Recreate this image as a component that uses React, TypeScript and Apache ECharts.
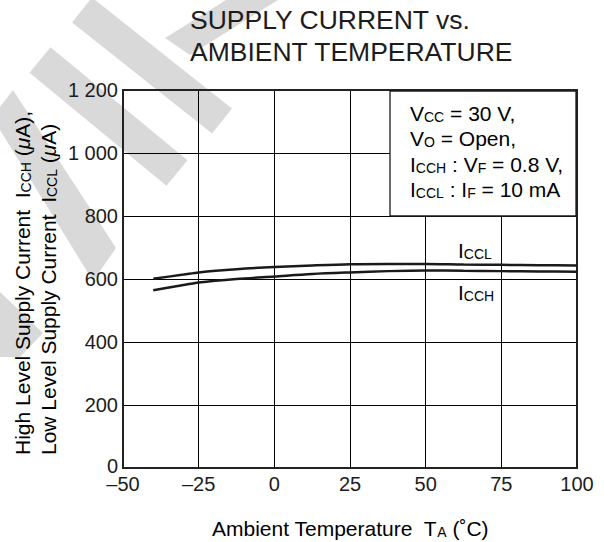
import React, { useEffect, useRef } from "react";
import * as echarts from "echarts";

// Data
const temps = [-40, -30, -25, -12.5, 0, 12.5, 25, 37.5, 50, 62.5, 75, 87.5, 100];
const icclValues = [601, 614, 621, 631, 638, 643, 647, 648, 648, 646, 645, 644, 643];
const icchValues = [564, 581, 589, 600, 608, 616, 621, 625, 627, 626, 625, 624, 623];
const xTicks = { min: -50, max: 100, interval: 25 };
const yTicks = { min: 0, max: 1200, interval: 200 };
const titleLines = ["SUPPLY CURRENT vs.", "AMBIENT TEMPERATURE"];
const legendLines = [
  "V{s|CC} = 30 V,",
  "V{s|O} = Open,",
  "I{s|CCH} : V{s|F} = 0.8 V,",
  "I{s|CCL} : I{s|F} = 10 mA",
];

const FONT = "'Liberation Sans', Arial, Helvetica, sans-serif";
const INK = "#1c1c1c";

function band(sx: number, sy: number, ex: number, ey: number, w: number) {
  const dx = ex - sx;
  const dy = ey - sy;
  const L = Math.hypot(dx, dy);
  const nx = (-dy / L) * (w / 2);
  const ny = (dx / L) * (w / 2);
  return [
    [sx + nx, sy + ny],
    [ex + nx, ey + ny],
    [ex - nx, ey - ny],
    [sx - nx, sy - ny],
  ];
}

const rich = {
  s: { fontSize: 14, fontFamily: FONT, color: INK, verticalAlign: "bottom" as const },
  i: { fontSize: 21, fontFamily: FONT, color: INK, fontStyle: "italic" as const, verticalAlign: "bottom" as const },
  n: { fontSize: 21, fontFamily: FONT, color: INK, verticalAlign: "bottom" as const },
};

function buildRich(t: string) {
  const parts: string[] = [];
  const re = /\{([a-z])\|([^}]*)\}/g;
  let last = 0;
  let m: RegExpExecArray | null;
  while ((m = re.exec(t)) !== null) {
    if (m.index > last) parts.push(`{n|${t.slice(last, m.index)}}`);
    parts.push(m[0]);
    last = m.index + m[0].length;
  }
  if (last < t.length) parts.push(`{n|${t.slice(last)}}`);
  return parts.join("");
}

export default function App() {
  const ref = useRef<HTMLDivElement>(null);
  useEffect(() => {
    if (!ref.current) return;
    const chart = echarts.init(ref.current, undefined, { renderer: "svg" });
    const bandColor = "#d9d9d9";
    const polys: number[][][] = [
      band(82, 10, 222, 121, 32),
      band(40, 60, 177, 173, 33),
      [[0, 107], [13, 90], [116, 248], [93, 281], [0, 130]],
      [[0, 292], [43, 333], [20, 357], [0, 357]],
      [[226, 0], [278, 0], [190, 55], [165, 38]],
    ];
    const graphics: any[] = polys.map((pts) => ({
      type: "polygon",
      z: -5,
      silent: true,
      shape: { points: pts },
      style: { fill: bandColor },
    }));
    // legend box
    graphics.push({
      type: "rect",
      z: 5,
      shape: { x: 390, y: 91, width: 186, height: 125 },
      style: { fill: "#fff", stroke: INK, lineWidth: 1.3 },
    });
    legendLines.forEach((l, k) => {
      graphics.push({
        type: "text",
        z: 6,
        x: 410,
        y: 113 + k * 25.5,
        style: { text: buildRich(l), rich, verticalAlign: "middle", align: "left" },
      });
    });
    // curve labels
    graphics.push({
      type: "text",
      z: 6,
      x: 458,
      y: 250,
      style: { text: buildRich("I{s|CCL}"), rich, verticalAlign: "middle", align: "left" },
    });
    graphics.push({
      type: "text",
      z: 6,
      x: 458,
      y: 292,
      style: { text: buildRich("I{s|CCH}"), rich, verticalAlign: "middle", align: "left" },
    });
    // y axis names
    const yNames = [
      "High Level Supply Current  I{s|CCH} ({i|μ}A),",
      "Low Level Supply Current  I{s|CCL} ({i|μ}A)",
    ];
    yNames.forEach((t, k) => {
      graphics.push({
        type: "text",
        z: 6,
        x: 22 + k * 26,
        y: 455,
        rotation: Math.PI / 2,
        style: { text: buildRich(t), rich, verticalAlign: "middle", align: "left" },
      });
    });
    // x axis name
    graphics.push({
      type: "text",
      z: 6,
      x: 212,
      y: 528,
      style: { text: buildRich("Ambient Temperature  T{s|A} (˚C)"), rich, verticalAlign: "middle", align: "left" },
    });

    const option: any = {
      animation: false,
      backgroundColor: "#fff",
      title: {
        text: titleLines.join("\n"),
        left: 190,
        top: 4,
        padding: 0,
        textStyle: { fontFamily: FONT, fontSize: 26.5, fontWeight: "normal", color: INK, lineHeight: 32 },
      },
      grid: {
        left: 123,
        top: 90,
        width: 454,
        height: 378,
        show: true,
        backgroundColor: "transparent",
        borderColor: "#222",
        borderWidth: 2,
        z: 3,
      },
      xAxis: {
        type: "value",
        min: xTicks.min,
        max: xTicks.max,
        interval: xTicks.interval,
        axisLine: { show: false },
        axisTick: { show: false },
        axisLabel: {
          margin: 8,
          color: INK,
          fontFamily: FONT,
          fontSize: 20,
          lineHeight: 15,
          formatter: (v: number) => (v < 0 ? "–" + Math.abs(v) : String(v)),
        },
        splitLine: { show: true, lineStyle: { color: "#000", width: 1 } },
      },
      yAxis: {
        type: "value",
        min: yTicks.min,
        max: yTicks.max,
        interval: yTicks.interval,
        axisLine: { show: false },
        axisTick: { show: false },
        axisLabel: {
          margin: 5,
          color: INK,
          fontFamily: FONT,
          fontSize: 20,
          lineHeight: 15,
          formatter: (v: number) =>
            v === 0 ? "{z|0}" : v >= 1000 ? "1 " + String(v - 1000).padStart(3, "0") : String(v),
          rich: {
            z: { fontFamily: FONT, fontSize: 20, color: INK, lineHeight: 15, padding: [0, 0, 5, 0] },
          },
        },
        splitLine: { show: true, lineStyle: { color: "#000", width: 1 } },
      },
      series: [
        {
          name: "ICCL",
          type: "line",
          smooth: 0.3,
          symbol: "none",
          data: temps.map((t, i) => [t, icclValues[i]]),
          lineStyle: { color: "#1a1a1a", width: 2.5 },
          z: 4,
        },
        {
          name: "ICCH",
          type: "line",
          smooth: 0.3,
          symbol: "none",
          data: temps.map((t, i) => [t, icchValues[i]]),
          lineStyle: { color: "#1a1a1a", width: 2.5 },
          z: 4,
        },
      ],
      graphic: graphics,
    };
    chart.setOption(option);
    return () => chart.dispose();
  }, []);
  return (
    <div
      ref={ref}
      style={{ position: "fixed", left: 0, top: 0, width: 604, height: 542 }}
    />
  );
}
